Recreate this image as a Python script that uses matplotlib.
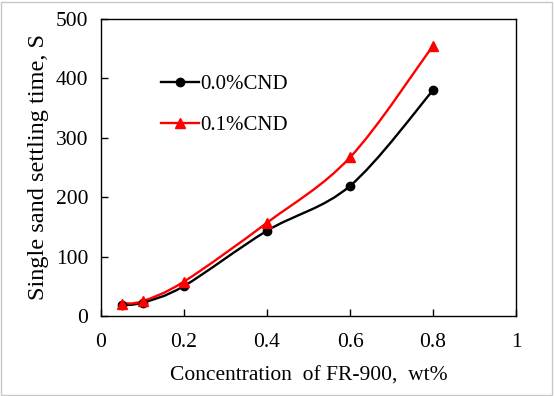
import numpy as np
import matplotlib.pyplot as plt
from matplotlib.path import Path
from matplotlib.patches import PathPatch
from matplotlib.lines import Line2D

plt.rcParams['font.family'] = ['Liberation Serif', 'DejaVu Serif']

conc = [0.05, 0.1, 0.2, 0.4, 0.6, 0.8]
cnd_00 = [18.5, 22.5, 50.5, 143.5, 219, 380]
cnd_01 = [21, 25, 58, 157, 267, 455]


def smooth_path(x, y):
    # Excel-style smoothed line: cubic Bezier segments with 1/6 tangents
    x = np.asarray(x, float)
    y = np.asarray(y, float)
    n = len(x)
    verts = [(x[0], y[0])]
    codes = [Path.MOVETO]
    for i in range(n - 1):
        p0 = (x[max(i - 1, 0)], y[max(i - 1, 0)])
        p1 = (x[i], y[i])
        p2 = (x[i + 1], y[i + 1])
        p3 = (x[min(i + 2, n - 1)], y[min(i + 2, n - 1)])
        c1 = (p1[0] + (p2[0] - p0[0]) / 6, p1[1] + (p2[1] - p0[1]) / 6)
        c2 = (p2[0] - (p3[0] - p1[0]) / 6, p2[1] - (p3[1] - p1[1]) / 6)
        verts += [c1, c2, p2]
        codes += [Path.CURVE4] * 3
    return Path(verts, codes)


fig = plt.figure(figsize=(5.54, 3.96), dpi=100)
ax = fig.add_axes([101 / 554, 1 - 316 / 396, 415 / 554, 297 / 396])

ax.add_patch(PathPatch(smooth_path(conc, cnd_00), fill=False, color='black', lw=1.7))
ax.add_patch(PathPatch(smooth_path(conc, cnd_01), fill=False, color='#ff0000', lw=1.7))
ax.plot(conc, cnd_00, 'o', color='black', ms=6)
ax.plot(conc, cnd_01, '^', color='#ff0000', ms=6.5)

ax.set_xlim(0, 1)
ax.set_ylim(0, 500)
ax.set_xticks([0, 0.2, 0.4, 0.6, 0.8, 1])
ax.set_xticklabels(['0', '0.2', '0.4', '0.6', '0.8', '1'])
ax.set_yticks([0, 100, 200, 300, 400, 500])
ax.tick_params(direction='in', length=5, width=1, labelsize=15.5)
ax.tick_params(axis='x', pad=12)
ax.tick_params(axis='y', pad=9)
for s in ax.spines.values():
    s.set_linewidth(1)

ax.set_xlabel('Concentration  of FR-900,  wt%', fontsize=15.5, labelpad=11)
ax.set_ylabel('Single sand settling time, S', fontsize=17.5, labelpad=5)

handles = [Line2D([], [], color='black', lw=1.7, marker='o', ms=6),
           Line2D([], [], color='#ff0000', lw=1.7, marker='^', ms=6.5)]
ax.legend(handles, ['0.0%CND', '0.1%CND'], loc='upper left',
          bbox_to_anchor=(0.1, 0.875), frameon=False, fontsize=15,
          labelspacing=1.0, handlelength=1.8, handletextpad=0.05)

fig.patches.append(plt.Rectangle((0.002, 0.003), 0.995, 0.993, transform=fig.transFigure,
                                 fill=False, edgecolor='#c8c8c8', lw=1))

fig.savefig('out.png', dpi=100)
